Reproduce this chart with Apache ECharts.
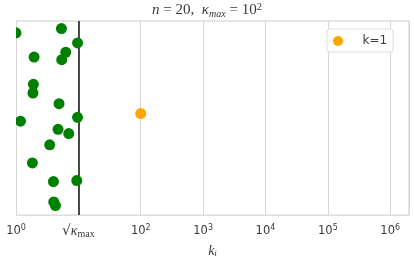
<!DOCTYPE html>
<html>
<head>
<meta charset="utf-8">
<script src="https://cdn.jsdelivr.net/npm/echarts@6/dist/echarts.min.js"></script>
<style>html,body{margin:0;padding:0;background:#fff;}#c{width:414px;height:263px;}</style>
</head>
<body>
<div id="c"></div>
<script>
// k_i values (log x) and vertical jitter positions of the 19 green points
const greenK = [1, 5.35, 9.7, 1.95, 6.28, 5.41, 1.90, 1.87, 4.90, 9.7, 1.18, 4.72, 7.01, 3.47, 1.83, 3.98, 9.43, 4.03, 4.29];
const greenY = [0.939, 0.961, 0.887, 0.814, 0.839, 0.801, 0.674, 0.629, 0.574, 0.504, 0.484, 0.442, 0.420, 0.362, 0.269, 0.173, 0.178, 0.068, 0.049];
// the k=1 highlighted point
const orangeK = [100];
const orangeY = [0.523];
const sqrtKappaMax = 10;
const tickExponents = [0, 1, 2, 3, 4, 5, 6];
const legendName = 'k=1';

const greenData = greenK.map((k, i) => [k, greenY[i]]);
const orangeData = orangeK.map((k, i) => [k, orangeY[i]]);

const chart = echarts.init(document.getElementById('c'), null, {renderer: 'canvas'});
const serif = 'Liberation Serif';
const sans = 'DejaVu Sans';
const tc = '#3a3a3a';
chart.setOption({
  animation: false,
  backgroundColor: '#fff',
  title: {
    text: '{i|n}{r| = 20,  }{i|κ}{sub|max}{r| = 10}{sup|2}',
    left: 'center',
    top: 2,
    padding: [0, 0, 0, 11],
    textStyle: {
      fontWeight: 'normal',
      rich: {
        i: {fontFamily: serif, fontStyle: 'italic', fontWeight: 'normal', fontSize: 15, color: tc, lineHeight: 17},
        r: {fontFamily: serif, fontWeight: 'normal', fontSize: 15, color: tc, lineHeight: 17},
        sub: {fontFamily: serif, fontStyle: 'italic', fontWeight: 'normal', fontSize: 10, color: tc, lineHeight: 8, verticalAlign: 'bottom'},
        sup: {fontFamily: serif, fontWeight: 'normal', fontSize: 10.5, color: tc, lineHeight: 9, verticalAlign: 'top'}
      }
    }
  },
  legend: {
    data: [legendName],
    left: 327,
    top: 29,
    orient: 'vertical',
    padding: [5, 6, 4, 6],
    itemWidth: 25,
    itemHeight: 10,
    borderColor: '#dddddd',
    borderWidth: 1,
    borderRadius: 3,
    backgroundColor: '#fff',
    textStyle: {fontFamily: sans, fontSize: 12, color: tc, padding: [0, 0, 0, 7], lineHeight: 14}
  },
  grid: {left: 16, right: 5, top: 21, bottom: 45, show: true, borderColor: '#cccccc', borderWidth: 1, backgroundColor: 'transparent'},
  xAxis: {
    type: 'log',
    logBase: 10,
    min: 1,
    max: 2e6,
    name: '{i|k}{sub|i}',
    nameLocation: 'middle',
    nameGap: 26,
    nameTextStyle: {
      rich: {
        i: {fontFamily: serif, fontStyle: 'italic', fontSize: 14, color: tc, lineHeight: 14},
        sub: {fontFamily: serif, fontStyle: 'italic', fontSize: 9, color: tc, lineHeight: 8, verticalAlign: 'bottom'}
      }
    },
    axisLine: {show: false},
    axisTick: {show: false},
    splitLine: {show: true, lineStyle: {color: '#d6d6d6', width: 1}},
    axisLabel: {
      margin: 9,
      showMaxLabel: false,
      formatter: function (v) {
        const e = Math.log10(v);
        const r = Math.round(e);
        if (Math.abs(e - r) > 1e-6 || tickExponents.indexOf(r) < 0) return '';
        if (Math.abs(v - sqrtKappaMax) < 1e-9) return '{rt|√}{k|κ}{m|max}';
        return '{b|10}{s|' + r + '}';
      },
      rich: {
        b: {fontFamily: sans, fontSize: 11.5, color: tc, lineHeight: 14},
        s: {fontFamily: sans, fontSize: 8, color: tc, lineHeight: 7, verticalAlign: 'top'},
        rt: {fontFamily: sans, fontSize: 14, color: tc, lineHeight: 15},
        k: {fontFamily: serif, fontStyle: 'italic', fontSize: 14, color: tc, lineHeight: 14},
        m: {fontFamily: serif, fontSize: 10, color: tc, lineHeight: 9, verticalAlign: 'bottom'}
      }
    }
  },
  yAxis: {type: 'value', min: 0, max: 1, show: false},
  graphic: [{
    type: 'rect', left: 0, top: 21, z: 100, silent: true,
    shape: {width: 16, height: 197},
    style: {fill: '#fff'}
  }],
  series: [
    {
      type: 'scatter',
      data: greenData,
      symbolSize: 11,
      itemStyle: {color: '#008000', opacity: 1},
      z: 3,
      markLine: {
        silent: true,
        z: 1,
        symbol: ['none', 'none'],
        label: {show: false},
        lineStyle: {color: '#111', width: 1.5, type: 'solid'},
        data: [{xAxis: sqrtKappaMax}]
      }
    },
    {
      name: legendName,
      type: 'scatter',
      data: orangeData,
      symbolSize: 11,
      itemStyle: {color: '#FFA500', opacity: 1},
      z: 3
    }
  ]
});
</script>
</body>
</html>
